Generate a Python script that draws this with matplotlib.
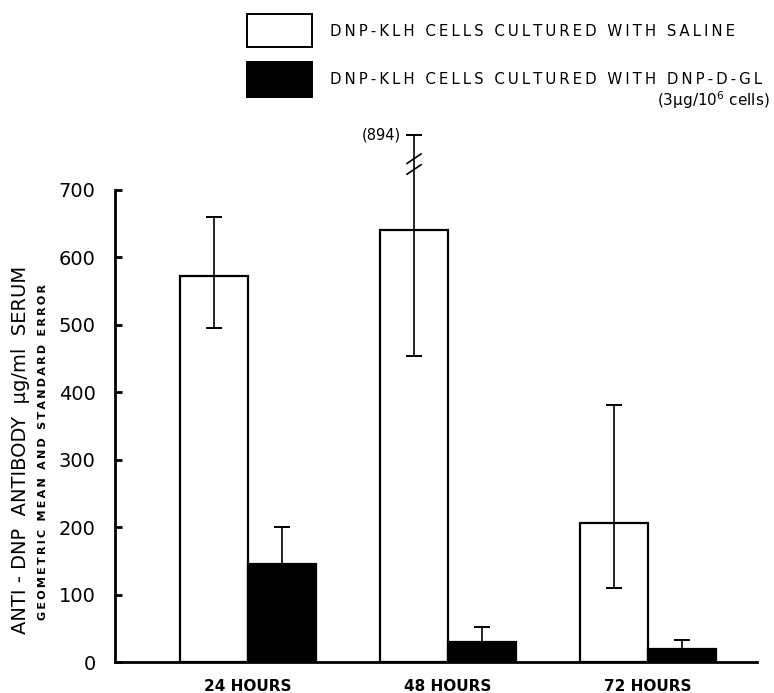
#!/usr/bin/env python3

import matplotlib
matplotlib.use('Agg')
import matplotlib.pyplot as plt
from matplotlib.patches import Rectangle

# Values (ug/ml serum, geometric mean and standard error)
groups = ['24 HOURS', '48 HOURS', '72 HOURS']
saline_mean = [572, 640, 206]
saline_low = [495, 454, 110]
# the 48 hour upper limit is 894, drawn truncated at the broken error bar
saline_high = [660, 781, 381]
saline_high_label = '(894)'
treated_mean = [146, 29, 19]
treated_high = [200, 52, 33]
y_ticks = [0, 100, 200, 300, 400, 500, 600, 700]

legend_saline = 'DNP-KLH CELLS CULTURED WITH SALINE'
legend_treated = 'DNP-KLH CELLS CULTURED WITH DNP-D-GL'
legend_dose = '(3\u03bcg/10$^6$ cells)'
ylabel_main = 'ANTI - DNP  ANTIBODY  \u03bcg/ml  SERUM'
ylabel_sub = 'GEOMETRIC MEAN AND STANDARD ERROR'


def spaced(text, gap='\u2009'):
    """Widen lettering by putting a thin space between the characters."""
    return gap.join(text)


def main():
    fig = plt.figure(figsize=(7.74, 6.93), dpi=100)
    ax = fig.add_axes([0.1486, 0.0447, 0.8295, 0.8081])

    width = 0.34
    x = list(range(len(groups)))
    x_saline = [i - width / 2 for i in x]
    x_treated = [i + width / 2 for i in x]

    ax.bar(x_saline, saline_mean, width=width, color='white',
           edgecolor='black', linewidth=1.6, zorder=2)
    ax.bar(x_treated, treated_mean, width=width, color='black',
           edgecolor='black', linewidth=1.6, zorder=2)

    sal_err = [[m - lo for m, lo in zip(saline_mean, saline_low)],
               [hi - m for m, hi in zip(saline_mean, saline_high)]]
    ax.errorbar(x_saline, saline_mean, yerr=sal_err, fmt='none',
                ecolor='black', elinewidth=1.2, capsize=6, capthick=1.4,
                zorder=3)
    trt_err = [[0] * len(treated_mean),
               [hi - m for m, hi in zip(treated_mean, treated_high)]]
    ax.errorbar(x_treated, treated_mean, yerr=trt_err, fmt='none',
                ecolor='black', elinewidth=1.2, capsize=6, capthick=1.4,
                zorder=3)

    # break marks on the truncated 48 hour error bar
    xb = x_saline[1]
    for yb in (730, 746):
        ax.plot([xb - 0.035, xb + 0.035], [yb - 7, yb + 7], color='black',
                linewidth=1.2, zorder=4)
    ax.text(xb - 0.065, saline_high[1], saline_high_label, ha='right',
            va='center', fontsize=10.5)

    ax.set_xlim(-0.665, 2.545)
    ax.set_ylim(0, 830)
    ax.set_yticks(y_ticks)
    ax.set_yticklabels([str(t) for t in y_ticks], fontsize=14)
    ax.set_xticks(x)
    ax.set_xticklabels(groups, fontsize=11, fontweight='bold')

    ax.spines['top'].set_visible(False)
    ax.spines['right'].set_visible(False)
    ax.spines['left'].set_bounds(0, 700)
    ax.spines['left'].set_linewidth(2)
    ax.spines['bottom'].set_linewidth(2)
    ax.tick_params(axis='y', direction='in', length=5, width=2, pad=14)
    ax.tick_params(axis='x', length=0, pad=12)

    # y axis title in two lines
    fig.text(0.027, 1 - 450 / 693, ylabel_main, rotation=90,
             ha='center', va='center', fontsize=14)
    fig.text(0.056, 1 - 452 / 693, spaced(ylabel_sub), rotation=90,
             ha='center', va='center', fontsize=8, fontweight='bold')

    # legend drawn above the axes
    fig.patches.append(Rectangle((247 / 774, 1 - 47 / 693), 65 / 774,
                                 33 / 693, transform=fig.transFigure,
                                 facecolor='white', edgecolor='black',
                                 linewidth=1.4))
    fig.patches.append(Rectangle((247 / 774, 1 - 97 / 693), 65 / 774,
                                 35 / 693, transform=fig.transFigure,
                                 facecolor='black', edgecolor='black',
                                 linewidth=1.4))
    fig.text(330 / 774, 1 - 31 / 693, spaced(legend_saline), ha='left',
             va='center', fontsize=10.8)
    fig.text(330 / 774, 1 - 79 / 693, spaced(legend_treated), ha='left',
             va='center', fontsize=10.8)
    fig.text(770 / 774, 1 - 100 / 693, legend_dose, ha='right',
             va='center', fontsize=11)

    fig.savefig('out.png', dpi=100)


if __name__ == '__main__':
    main()
